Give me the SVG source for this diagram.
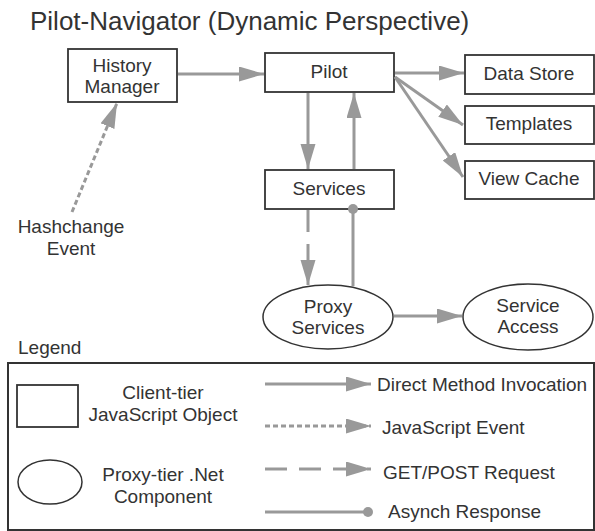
<svg xmlns="http://www.w3.org/2000/svg" width="595" height="531" viewBox="0 0 595 531">
<defs>
<style>
text{font-family:"Liberation Sans",Arial,sans-serif;font-size:19px;fill:#333;}
.t{text-anchor:middle;}
.box{fill:#fff;stroke:#333;stroke-width:1.8;}
.ell{fill:#fff;stroke:#333;stroke-width:1.5;}
.c{fill:none;stroke:#999;stroke-width:3;}
.dot{stroke-dasharray:5 3;}
.dash{stroke-dasharray:22 12;}
</style>
<marker id="ah" markerUnits="userSpaceOnUse" markerWidth="26" markerHeight="16" refX="25" refY="7.5" orient="auto">
<path d="M0,0 L25,7.5 L0,15 z" fill="#999"/>
</marker>
<marker id="bd" markerUnits="userSpaceOnUse" markerWidth="12" markerHeight="12" refX="6" refY="6" orient="auto">
<circle cx="6" cy="6" r="5" fill="#999"/>
</marker>
</defs>
<rect width="595" height="531" fill="#fff"/>
<text x="30" y="30" style="font-size:26px">Pilot-Navigator (Dynamic Perspective)</text>

<g id="history-manager">
<rect class="box" x="68" y="49" width="109" height="53"/>
<text class="t" x="122" y="72">History</text>
<text class="t" x="122" y="93">Manager</text>
</g>
<g id="pilot">
<rect class="box" x="265" y="53" width="129" height="39"/>
<text class="t" x="329" y="78">Pilot</text>
</g>
<g id="data-store">
<rect class="box" x="465" y="55" width="129" height="39"/>
<text class="t" x="529" y="80">Data Store</text>
</g>
<g id="templates">
<rect class="box" x="465" y="106" width="129" height="38"/>
<text class="t" x="529" y="130">Templates</text>
</g>
<g id="view-cache">
<rect class="box" x="465" y="161" width="129" height="38"/>
<text class="t" x="529" y="185">View Cache</text>
</g>
<g id="services">
<rect class="box" x="265" y="170" width="129" height="39"/>
<text class="t" x="329" y="195">Services</text>
</g>
<g id="proxy-services">
<ellipse class="ell" cx="328" cy="317" rx="65" ry="32"/>
<text class="t" x="328" y="313">Proxy</text>
<text class="t" x="328" y="334">Services</text>
</g>
<g id="service-access">
<ellipse class="ell" cx="528" cy="317" rx="65" ry="33"/>
<text class="t" x="528" y="312">Service</text>
<text class="t" x="528" y="333">Access</text>
</g>
<g id="hashchange-event">
<text class="t" x="71" y="233">Hashchange</text>
<text class="t" x="71" y="255">Event</text>
</g>

<g id="connectors">
<line class="c" x1="178" y1="74" x2="264" y2="74" marker-end="url(#ah)"/>
<line class="c" x1="395" y1="73" x2="464" y2="73" marker-end="url(#ah)"/>
<line class="c" x1="395" y1="77" x2="463" y2="125" marker-end="url(#ah)"/>
<line class="c" x1="395" y1="77" x2="463" y2="177" marker-end="url(#ah)"/>
<line class="c" x1="308" y1="93" x2="308" y2="169" marker-end="url(#ah)"/>
<line class="c" x1="354" y1="169" x2="354" y2="93" marker-end="url(#ah)"/>
<line class="c dash" x1="308" y1="210" x2="308" y2="285" marker-end="url(#ah)"/>
<line class="c" x1="353" y1="286" x2="353" y2="209" marker-end="url(#bd)"/>
<line class="c" x1="394" y1="316" x2="462" y2="316" marker-end="url(#ah)"/>
<line class="c dot" x1="72" y1="212" x2="117" y2="103" marker-end="url(#ah)"/>
</g>

<g id="legend">
<text x="18" y="354">Legend</text>
<rect x="8" y="363" width="586" height="167" fill="none" stroke="#333" stroke-width="2"/>
<rect class="box" x="17" y="385" width="61" height="42"/>
<text class="t" x="163" y="399">Client-tier</text>
<text class="t" x="163" y="421">JavaScript Object</text>
<ellipse class="ell" cx="50" cy="482" rx="32" ry="22"/>
<text class="t" x="163" y="481">Proxy-tier .Net</text>
<text class="t" x="163" y="503">Component</text>
<line class="c" x1="265" y1="384" x2="371" y2="384" marker-end="url(#ah)"/>
<text x="377" y="391">Direct Method Invocation</text>
<line class="c dot" x1="265" y1="426" x2="371" y2="426" marker-end="url(#ah)"/>
<text x="382" y="434">JavaScript Event</text>
<line class="c dash" x1="265" y1="469" x2="371" y2="469" marker-end="url(#ah)"/>
<text x="383" y="479">GET/POST Request</text>
<line class="c" x1="265" y1="512" x2="368" y2="512" marker-end="url(#bd)"/>
<text x="388" y="518">Asynch Response</text>
</g>
</svg>
